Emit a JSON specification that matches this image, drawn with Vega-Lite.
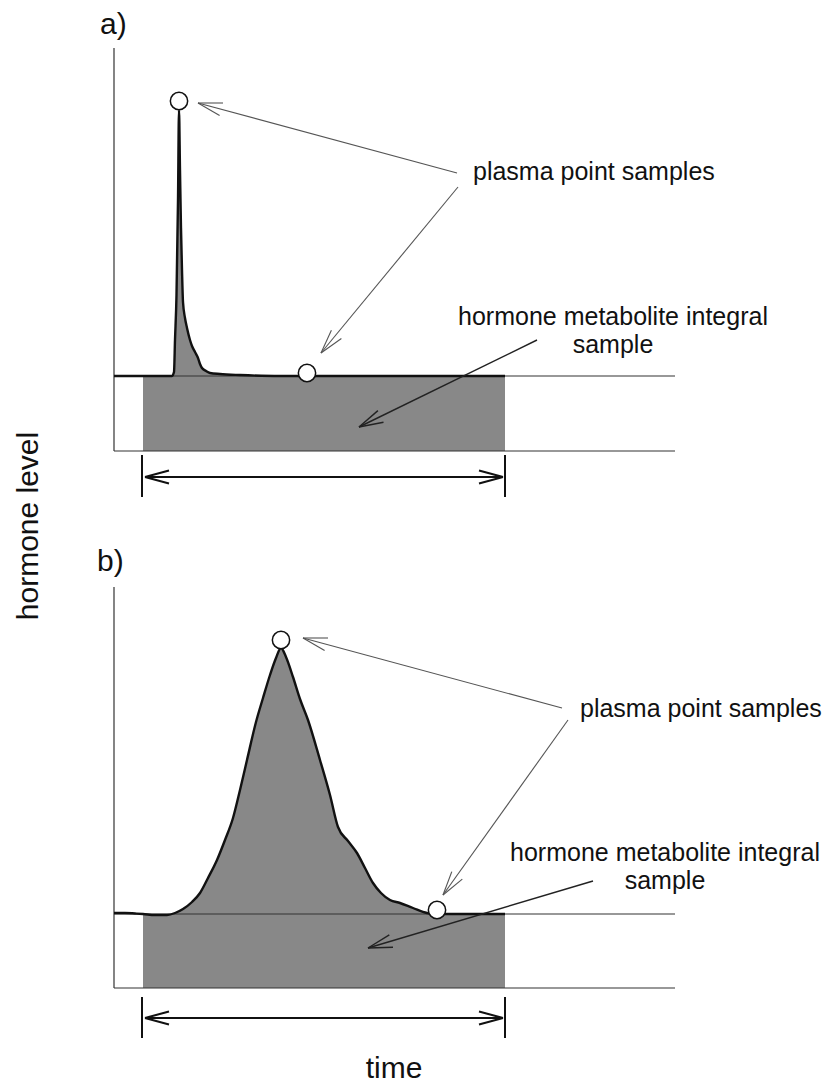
{
  "$schema": "https://vega.github.io/schema/vega-lite/v6.json",
  "width": 831,
  "height": 1086,
  "autosize": "none",
  "padding": 0,
  "background": "white",
  "config": {"view": {"stroke": null}, "font": "Liberation Sans"},
  "datasets": {
    "curveA": [
      {"x": 114, "y": 376}, {"x": 143, "y": 376}, {"x": 172, "y": 376}, {"x": 174, "y": 372},
      {"x": 175, "y": 340}, {"x": 176.5, "y": 295}, {"x": 178, "y": 200}, {"x": 179, "y": 110},
      {"x": 180, "y": 170}, {"x": 181, "y": 228}, {"x": 182, "y": 270}, {"x": 183, "y": 302},
      {"x": 185, "y": 318}, {"x": 187, "y": 328}, {"x": 190, "y": 340}, {"x": 192, "y": 346},
      {"x": 195, "y": 352}, {"x": 198, "y": 358}, {"x": 200, "y": 364}, {"x": 202, "y": 368},
      {"x": 206, "y": 371}, {"x": 210, "y": 373}, {"x": 220, "y": 374}, {"x": 240, "y": 375},
      {"x": 280, "y": 376}, {"x": 505, "y": 376}
    ],
    "curveB": [
      {"x": 114, "y": 913}, {"x": 125, "y": 913}, {"x": 135, "y": 913.5}, {"x": 143, "y": 914},
      {"x": 155, "y": 915}, {"x": 167, "y": 915}, {"x": 175, "y": 913}, {"x": 183, "y": 909},
      {"x": 192, "y": 902}, {"x": 200, "y": 893}, {"x": 208, "y": 878}, {"x": 217, "y": 860},
      {"x": 225, "y": 840}, {"x": 233, "y": 818}, {"x": 240, "y": 790}, {"x": 247, "y": 760},
      {"x": 256, "y": 722}, {"x": 263, "y": 698}, {"x": 270, "y": 675}, {"x": 276, "y": 658},
      {"x": 281, "y": 648}, {"x": 286, "y": 657}, {"x": 293, "y": 677}, {"x": 300, "y": 699},
      {"x": 308, "y": 720}, {"x": 320, "y": 760}, {"x": 330, "y": 795}, {"x": 338, "y": 827},
      {"x": 348, "y": 841}, {"x": 357, "y": 853}, {"x": 365, "y": 868}, {"x": 373, "y": 883},
      {"x": 381, "y": 893}, {"x": 390, "y": 900}, {"x": 400, "y": 903}, {"x": 413, "y": 908},
      {"x": 427, "y": 913}, {"x": 435, "y": 914}, {"x": 505, "y": 914}
    ],
    "frame": [
      {"x": 114, "y": 48, "x2": 114, "y2": 451},
      {"x": 114, "y": 451, "x2": 675, "y2": 451},
      {"x": 114, "y": 376, "x2": 675, "y2": 376},
      {"x": 114, "y": 587, "x2": 114, "y2": 988},
      {"x": 114, "y": 988, "x2": 675, "y2": 988},
      {"x": 114, "y": 914, "x2": 675, "y2": 914}
    ],
    "spans": [
      {"x": 142, "y": 455, "x2": 142, "y2": 497},
      {"x": 505, "y": 455, "x2": 505, "y2": 497},
      {"x": 145, "y": 477, "x2": 503, "y2": 477},
      {"x": 145, "y": 477, "x2": 169, "y2": 470.5},
      {"x": 145, "y": 477, "x2": 169, "y2": 483.5},
      {"x": 503, "y": 477, "x2": 479, "y2": 470.5},
      {"x": 503, "y": 477, "x2": 479, "y2": 483.5},
      {"x": 142, "y": 997, "x2": 142, "y2": 1038},
      {"x": 505, "y": 997, "x2": 505, "y2": 1038},
      {"x": 145, "y": 1018, "x2": 503, "y2": 1018},
      {"x": 145, "y": 1018, "x2": 169, "y2": 1011.5},
      {"x": 145, "y": 1018, "x2": 169, "y2": 1024.5},
      {"x": 503, "y": 1018, "x2": 479, "y2": 1011.5},
      {"x": 503, "y": 1018, "x2": 479, "y2": 1024.5}
    ],
    "pointers": [
      {"x": 457, "y": 173, "x2": 198, "y2": 103},
      {"x": 198, "y": 103, "x2": 219.6, "y2": 115.5},
      {"x": 198, "y": 103, "x2": 223, "y2": 103},
      {"x": 458, "y": 187, "x2": 321, "y2": 353},
      {"x": 321, "y": 353, "x2": 341.4, "y2": 338.5},
      {"x": 321, "y": 353, "x2": 331.4, "y2": 330.3},
      {"x": 562, "y": 708, "x2": 303, "y2": 638},
      {"x": 303, "y": 638, "x2": 324.6, "y2": 650.5},
      {"x": 303, "y": 638, "x2": 328, "y2": 638},
      {"x": 568, "y": 720, "x2": 443, "y2": 895},
      {"x": 443, "y": 895, "x2": 462.3, "y2": 879.1},
      {"x": 443, "y": 895, "x2": 451.8, "y2": 871.6}
    ],
    "integralPointers": [
      {"x": 537, "y": 340, "x2": 359, "y2": 427},
      {"x": 359, "y": 427, "x2": 383.5, "y2": 422.2},
      {"x": 359, "y": 427, "x2": 377.9, "y2": 410.6},
      {"x": 593, "y": 881, "x2": 368, "y2": 948},
      {"x": 368, "y": 948, "x2": 393, "y2": 947.3},
      {"x": 368, "y": 948, "x2": 389.3, "y2": 934.9}
    ],
    "samples": [
      {"x": 179, "y": 101}, {"x": 307, "y": 373}, {"x": 281, "y": 640}, {"x": 437, "y": 910}
    ],
    "panelLabels": [
      {"x": 100, "y": 34, "text": "a)"},
      {"x": 97, "y": 571, "text": "b)"}
    ],
    "plasmaText": [
      {"x": 473, "y": 180, "text": "plasma point samples"},
      {"x": 580, "y": 717, "text": "plasma point samples"}
    ],
    "integralText": [
      {"x": 613, "y": 325, "text": "hormone metabolite integral"},
      {"x": 613, "y": 353, "text": "sample"},
      {"x": 665, "y": 861, "text": "hormone metabolite integral"},
      {"x": 665, "y": 889, "text": "sample"}
    ],
    "xTitle": [{"x": 394, "y": 1078, "text": "time"}],
    "yTitle": [{"x": 38, "y": 526, "text": "hormone level"}]
  },
  "encoding": {
    "x": {"field": "x", "type": "quantitative", "scale": {"domain": [0, 831], "nice": false, "zero": false}, "axis": null},
    "y": {"field": "y", "type": "quantitative", "scale": {"domain": [0, 1086], "nice": false, "zero": false, "reverse": true}, "axis": null}
  },
  "layer": [
    {
      "data": {"name": "curveA"},
      "transform": [{"filter": "datum.x >= 143"}],
      "mark": {"type": "area", "color": "#888888", "interpolate": "monotone"},
      "encoding": {"y2": {"datum": 451}}
    },
    {
      "data": {"name": "curveB"},
      "transform": [{"filter": "datum.x >= 143"}],
      "mark": {"type": "area", "color": "#888888", "interpolate": "monotone"},
      "encoding": {"y2": {"datum": 988}}
    },
    {
      "data": {"name": "frame"},
      "mark": {"type": "rule", "color": "#333333", "strokeWidth": 1.2},
      "encoding": {"x2": {"field": "x2"}, "y2": {"field": "y2"}}
    },
    {
      "data": {"name": "curveA"},
      "mark": {"type": "line", "color": "#111111", "strokeWidth": 2.4, "interpolate": "monotone"}
    },
    {
      "data": {"name": "curveB"},
      "mark": {"type": "line", "color": "#111111", "strokeWidth": 2.4, "interpolate": "monotone"}
    },
    {
      "data": {"name": "spans"},
      "mark": {"type": "rule", "color": "#111111", "strokeWidth": 2},
      "encoding": {"x2": {"field": "x2"}, "y2": {"field": "y2"}}
    },
    {
      "data": {"name": "pointers"},
      "mark": {"type": "rule", "color": "#555555", "strokeWidth": 1.1},
      "encoding": {"x2": {"field": "x2"}, "y2": {"field": "y2"}}
    },
    {
      "data": {"name": "integralPointers"},
      "mark": {"type": "rule", "color": "#222222", "strokeWidth": 1.4},
      "encoding": {"x2": {"field": "x2"}, "y2": {"field": "y2"}}
    },
    {
      "data": {"name": "samples"},
      "mark": {"type": "point", "shape": "circle", "filled": true, "fill": "white", "stroke": "#111111", "strokeWidth": 1.5, "size": 300, "opacity": 1}
    },
    {
      "data": {"name": "panelLabels"},
      "mark": {"type": "text", "align": "left", "baseline": "alphabetic", "fontSize": 30, "color": "#111111"},
      "encoding": {"text": {"field": "text"}}
    },
    {
      "data": {"name": "plasmaText"},
      "mark": {"type": "text", "align": "left", "baseline": "alphabetic", "fontSize": 25, "color": "#111111"},
      "encoding": {"text": {"field": "text"}}
    },
    {
      "data": {"name": "integralText"},
      "mark": {"type": "text", "align": "center", "baseline": "alphabetic", "fontSize": 25, "color": "#111111"},
      "encoding": {"text": {"field": "text"}}
    },
    {
      "data": {"name": "xTitle"},
      "mark": {"type": "text", "align": "center", "baseline": "alphabetic", "fontSize": 30, "color": "#111111"},
      "encoding": {"text": {"field": "text"}}
    },
    {
      "data": {"name": "yTitle"},
      "mark": {"type": "text", "align": "center", "baseline": "alphabetic", "fontSize": 30, "angle": 270, "color": "#111111"},
      "encoding": {"text": {"field": "text"}}
    }
  ]
}
